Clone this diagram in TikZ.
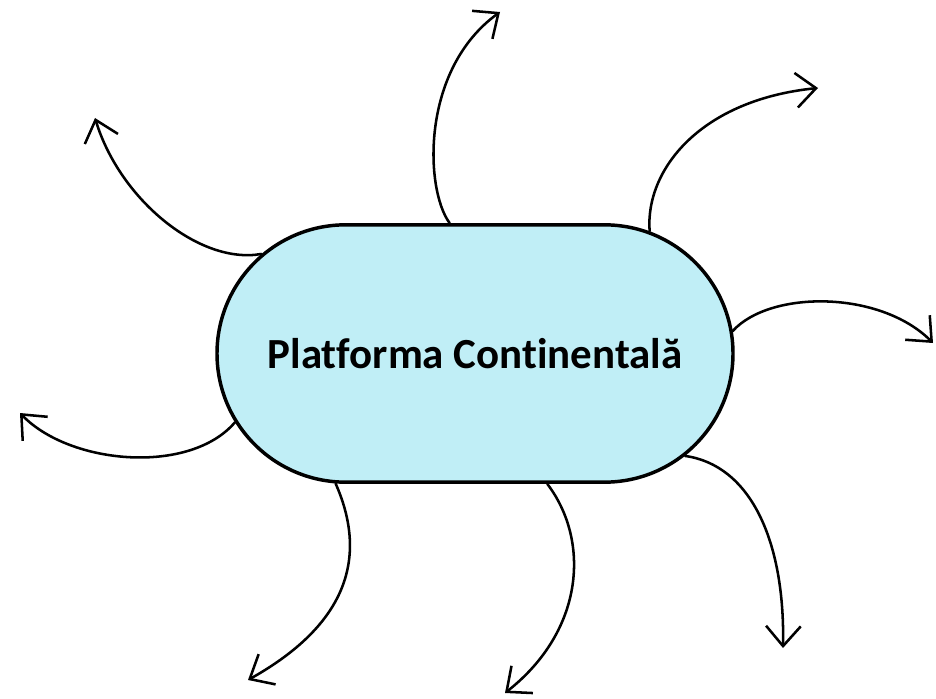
\documentclass[tikz,border=0pt]{standalone}
\usepackage{fontspec}
\setmainfont{Carlito}[Ligatures=NoCommon]
\usetikzlibrary{shapes.misc, arrows.meta}
\definecolor{platfill}{RGB}{192,238,246}
\begin{document}
\begin{tikzpicture}[x=0.75pt, y=-0.75pt,
    >={Straight Barb[length=15pt, width=26pt]},
    ray/.style={->, line width=1.9pt, line cap=round}]
  \useasboundingbox (0,0) rectangle (936,699);
  \node[rounded rectangle, draw, line width=2.6pt, fill=platfill,
        minimum width=387pt, minimum height=193pt, inner sep=0pt,
        font=\fontsize{32.2}{38}\selectfont\bfseries] (plat) at (475,353.5) {Platforma Continentală};

  % arrow tips
  \coordinate (t1) at (500,12);
  \coordinate (t2) at (818,88);
  \coordinate (t3) at (95,118);
  \coordinate (t4) at (933,343);
  \coordinate (t5) at (20,413);
  \coordinate (t6) at (248,680);
  \coordinate (t7) at (505,693);
  \coordinate (t8) at (783,648);

  \draw[ray] (plat.101) .. controls (425,190) and (420,70) .. (t1);
  \draw[ray] (plat.35.1) .. controls (645,170) and (700,100) .. (t2);
  \draw[ray] (plat.155) .. controls (200,265) and (120,200) .. (t3);
  \draw[ray] (plat.5.3) .. controls (770,290) and (880,290) .. (t4);
  \draw[ray] (plat.196.7) .. controls (190,475) and (70,465) .. (t5);
  \draw[ray] (plat.223.6) .. controls (365,550) and (355,620) .. (t6);
  \draw[ray] (plat.299.6) .. controls (590,540) and (585,630) .. (t7);
  \draw[ray] (plat.334) .. controls (750,465) and (785,540) .. (t8);
\end{tikzpicture}
\end{document}
